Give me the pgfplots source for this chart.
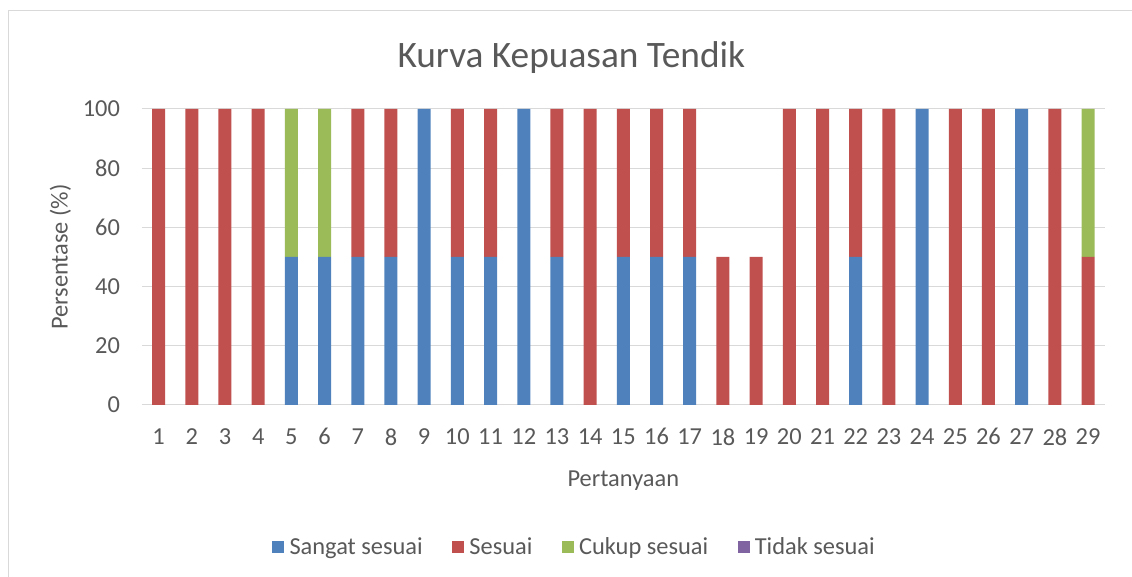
\documentclass[border=0pt]{standalone}
\usepackage{pgfplots}
\usepackage{pgfplotstable}
\usepackage{fontspec}
\setmainfont{Carlito}
\pgfplotsset{compat=1.18}
\definecolor{cblue}{HTML}{4F81BD}
\definecolor{cred}{HTML}{C0504D}
\definecolor{cgreen}{HTML}{9BBB59}
\definecolor{cpurple}{HTML}{8064A2}
\definecolor{ctext}{HTML}{595959}
\definecolor{cgrid}{HTML}{D9D9D9}
\pgfplotstableread{
q ss s cs ts
1 0 100 0 0
2 0 100 0 0
3 0 100 0 0
4 0 100 0 0
5 50 0 50 0
6 50 0 50 0
7 50 50 0 0
8 50 50 0 0
9 100 0 0 0
10 50 50 0 0
11 50 50 0 0
12 100 0 0 0
13 50 50 0 0
14 0 100 0 0
15 50 50 0 0
16 50 50 0 0
17 50 50 0 0
18 0 50 0 0
19 0 50 0 0
20 0 100 0 0
21 0 100 0 0
22 50 50 0 0
23 0 100 0 0
24 100 0 0 0
25 0 100 0 0
26 0 100 0 0
27 100 0 0 0
28 0 100 0 0
29 0 50 50 0
}\datatable
\begin{document}
\begin{tikzpicture}[x=0.75pt,y=0.75pt]
\useasboundingbox (-142,-172) rectangle (990,405);
\draw[cgrid, line width=0.75pt] (-133,-200) rectangle (1000,394);
\begin{axis}[
  at={(0,0)}, anchor=south west,
  scale only axis,
  width=722pt, height=222pt,
  ybar stacked,
  bar width=9.75pt,
  xmin=0.5, xmax=29.5,
  ymin=0, ymax=100,
  xtick=data,
  ytick={0,20,40,60,80,100},
  axis line style={draw=none},
  major tick length=0pt,
  ymajorgrids,
  grid style={cgrid, line width=0.75pt},
  /pgf/number format/assume math mode=true,
  tick label style={font=\fontsize{18.3}{21}\selectfont, text=ctext},
  xticklabel style={yshift=-14pt},
  yticklabel style={xshift=-13pt},
  xlabel={Pertanyaan},
  ylabel={Persentase (\%)},
  label style={font=\fontsize{18.3}{21}\selectfont, text=ctext},
  xlabel style={yshift=-12pt},
  ylabel style={yshift=2pt},
  title={Kurva Kepuasan Tendik},
  title style={font=\fontsize{28}{32}\selectfont, text=ctext, yshift=17pt, xshift=-39pt},
  legend columns=-1,
  legend style={at={(0.4496,-0.48)}, anchor=center, draw=none, font=\fontsize{18.3}{21}\selectfont, text=ctext,
    /tikz/every even column/.append style={column sep=20pt},
    /tikz/every odd column/.append style={column sep=2pt}},
  legend image code/.code={\fill[#1] (0pt,-4.5pt) rectangle (9pt,4.5pt);},
]
\addplot[fill=cblue, draw=none] table[x=q, y=ss] {\datatable};
\addplot[fill=cred, draw=none] table[x=q, y=s] {\datatable};
\addplot[fill=cgreen, draw=none] table[x=q, y=cs] {\datatable};
\addplot[fill=cpurple, draw=none] table[x=q, y=ts] {\datatable};
\legend{Sangat sesuai, Sesuai, Cukup sesuai, Tidak sesuai}
\end{axis}
\end{tikzpicture}
\end{document}
